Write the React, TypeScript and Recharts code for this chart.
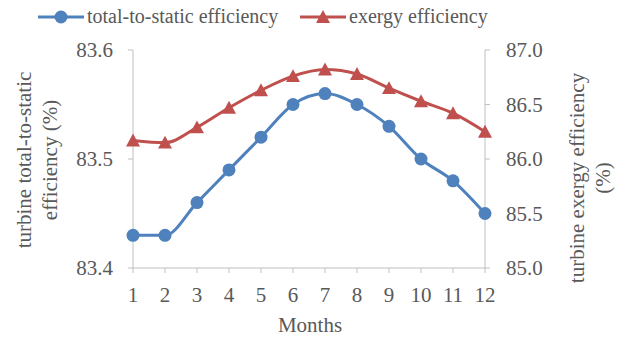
import React from 'react';
import { LineChart, Line, XAxis, YAxis, Legend } from 'recharts';

const months = [1, 2, 3, 4, 5, 6, 7, 8, 9, 10, 11, 12];
const totalToStatic = [83.43, 83.43, 83.46, 83.49, 83.52, 83.55, 83.56, 83.55, 83.53, 83.5, 83.48, 83.45];
const exergy = [86.17, 86.15, 86.29, 86.47, 86.63, 86.76, 86.82, 86.78, 86.65, 86.53, 86.42, 86.25];
const leftTicks = [83.4, 83.5, 83.6];
const rightTicks = [85.0, 85.5, 86.0, 86.5, 87.0];

const data = months.map((m, i) => ({ month: m, tts: totalToStatic[i], exergy: exergy[i] }));

const BLUE = '#4F81BD';
const RED = '#C0504D';
const TEXT = '#595959';
const AXIS = '#BFBFBF';
const FONT = 'Liberation Serif, serif';
const FS = 21;

const trianglePoints = (cx: number, cy: number, s = 7) =>
  `${cx},${cy - s} ${cx - s},${cy + s * 0.85} ${cx + s},${cy + s * 0.85}`;

const renderTriangle = (props: any) => {
  const { cx, cy, index } = props;
  if (cx == null || cy == null) return <g key={index} />;
  return <polygon key={index} points={trianglePoints(cx, cy)} fill={RED} />;
};

const renderLegend = (props: any) => {
  const { payload = [] } = props;
  return (
    <div style={{ position: 'relative', height: 34, fontFamily: FONT, fontSize: 20, color: TEXT }}>
      {payload.map((entry: any) => {
        const tri = entry.dataKey === 'exergy';
        return (
          <div
            key={entry.dataKey}
            style={{ position: 'absolute', left: tri ? 300 : 38, top: 5, display: 'flex', alignItems: 'center', whiteSpace: 'nowrap' }}
          >
            <svg width={46} height={20}>
              <line x1={0} y1={10} x2={46} y2={10} stroke={entry.color} strokeWidth={3} />
              {tri ? (
                <polygon points={trianglePoints(23, 10)} fill={entry.color} />
              ) : (
                <circle cx={23} cy={10} r={6.5} fill={entry.color} />
              )}
            </svg>
            <span style={{ marginLeft: 3 }}>{entry.value}</span>
          </div>
        );
      })}
    </div>
  );
};

const StackedLabel = ({ lines, x, y }: { lines: string[]; x: number; y: number }) => (
  <text transform={`rotate(-90, ${x}, ${y})`} x={x} y={y} textAnchor="middle" fill={TEXT} fontFamily={FONT} fontSize={FS}>
    {lines.map((l, i) => (
      <tspan key={i} x={x} dy={i === 0 ? 0 : 26}>
        {l}
      </tspan>
    ))}
  </text>
);

// tick text drawn directly so the serif face is applied
const makeTick = (anchor: 'start' | 'middle' | 'end', dy: number, fmt: (v: number) => string) => (props: any) => {
  const { x, y, payload } = props;
  return (
    <text x={x} y={y} dy={dy} textAnchor={anchor} fill={TEXT} fontFamily={FONT} fontSize={FS}>
      {fmt(payload.value)}
    </text>
  );
};

const fmt1 = (v: number) => v.toFixed(1);

export default function App() {
  return (
    <div style={{ position: 'absolute', left: 0, top: 0, background: '#fff', fontFamily: FONT }}>
      <LineChart width={627} height={342} data={data} margin={{ top: 16, right: 0, bottom: 0, left: 0 }}>
        <Legend verticalAlign="top" content={renderLegend} wrapperStyle={{ top: 0, left: 0, width: 627 }} />
        <XAxis
          dataKey="month"
          type="number"
          domain={[1, 12]}
          ticks={months}
          height={74}
          stroke={AXIS}
          tickSize={5}
          tickMargin={14}
          tick={makeTick('middle', 15, (v) => String(v))}
          label={{
            content: () => (
              <text x={310} y={332} textAnchor="middle" fill={TEXT} fontFamily={FONT} fontSize={FS}>
                Months
              </text>
            ),
          }}
        />
        <YAxis
          yAxisId="left"
          domain={[83.4, 83.6]}
          ticks={leftTicks}
          width={133}
          stroke={AXIS}
          tickSize={5}
          tickMargin={15}
          tick={makeTick('end', 7, fmt1)}
          label={{
            content: () => <StackedLabel lines={['turbine total-to-static', 'efficiency (%)']} x={31} y={160} />,
          }}
        />
        <YAxis
          yAxisId="right"
          orientation="right"
          domain={[85, 87]}
          ticks={rightTicks}
          width={142}
          stroke={AXIS}
          tickSize={5}
          tickMargin={16}
          tick={makeTick('start', 7, fmt1)}
          label={{
            content: () => <StackedLabel lines={['turbine exergy efficiency', '(%)']} x={584} y={178} />,
          }}
        />
        <Line
          yAxisId="left"
          type="monotone"
          dataKey="tts"
          name="total-to-static efficiency"
          stroke={BLUE}
          strokeWidth={3}
          dot={{ r: 6.5, fill: BLUE, stroke: BLUE, strokeWidth: 0 }}
          isAnimationActive={false}
        />
        <Line
          yAxisId="right"
          type="monotone"
          dataKey="exergy"
          name="exergy efficiency"
          stroke={RED}
          strokeWidth={3}
          dot={renderTriangle}
          isAnimationActive={false}
        />
      </LineChart>
    </div>
  );
}
